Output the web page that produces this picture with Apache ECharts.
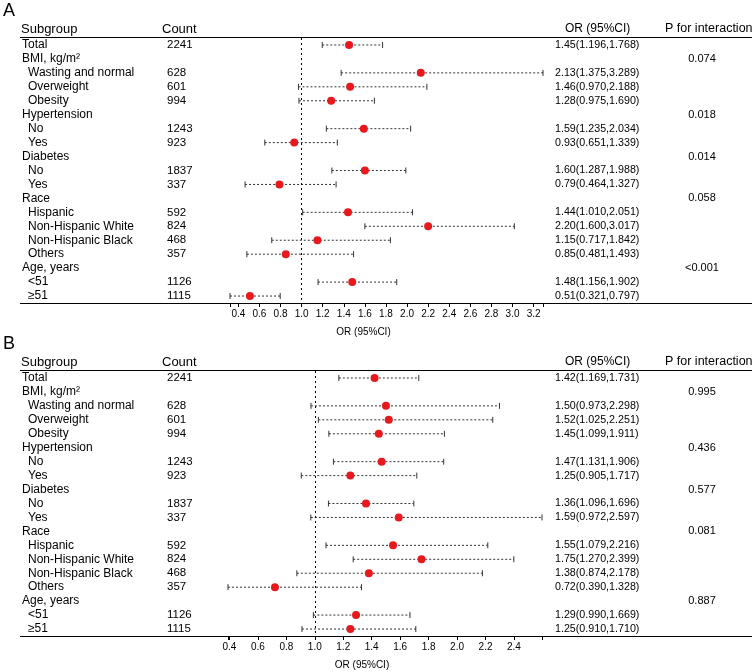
<!DOCTYPE html>
<html>
<head>
<meta charset="utf-8">
<script src="https://cdn.jsdelivr.net/npm/echarts@6/dist/echarts.min.js"></script>
<style>
    html, body { margin: 0; padding: 0; background: #fff; }
    #main { width: 755px; height: 672px; }
</style>
</head>
<body>
<div id="main"></div>
<script>
// rows of the table, top to bottom (same for both panels)
const subgroups = ['Total', 'BMI, kg/m²', 'Wasting and normal', 'Overweight', 'Obesity',
    'Hypertension', 'No', 'Yes', 'Diabetes', 'No', 'Yes',
    'Race', 'Hispanic', 'Non-Hispanic White', 'Non-Hispanic Black', 'Others',
    'Age, years', '<51', '≥51'];
// 0 = group row, 1 = indented sub row
const level = [0, 0, 1, 1, 1, 0, 1, 1, 0, 1, 1, 0, 1, 1, 1, 1, 0, 1, 1];
const counts = [2241, null, 628, 601, 994, null, 1243, 923, null, 1837, 337, null, 592, 824, 468, 357, null, 1126, 1115];

// panel A
const orA = [1.45, null, 2.13, 1.46, 1.28, null, 1.59, 0.93, null, 1.60, 0.79, null, 1.44, 2.20, 1.15, 0.85, null, 1.48, 0.51];
const loA = [1.196, null, 1.375, 0.970, 0.975, null, 1.235, 0.651, null, 1.287, 0.464, null, 1.010, 1.600, 0.717, 0.481, null, 1.156, 0.321];
const hiA = [1.768, null, 3.289, 2.188, 1.690, null, 2.034, 1.339, null, 1.988, 1.327, null, 2.051, 3.017, 1.842, 1.493, null, 1.902, 0.797];
const pA = ['', '0.074', '', '', '', '0.018', '', '', '0.014', '', '', '0.058', '', '', '', '', '<0.001', '', ''];
const ticksA = [0.4, 0.6, 0.8, 1.0, 1.2, 1.4, 1.6, 1.8, 2.0, 2.2, 2.4, 2.6, 2.8, 3.0, 3.2];

// panel B
const orB = [1.42, null, 1.50, 1.52, 1.45, null, 1.47, 1.25, null, 1.36, 1.59, null, 1.55, 1.75, 1.38, 0.72, null, 1.29, 1.25];
const loB = [1.169, null, 0.973, 1.025, 1.099, null, 1.131, 0.905, null, 1.096, 0.972, null, 1.079, 1.270, 0.874, 0.390, null, 0.990, 0.910];
const hiB = [1.731, null, 2.298, 2.251, 1.911, null, 1.906, 1.717, null, 1.696, 2.597, null, 2.216, 2.399, 2.178, 1.328, null, 1.669, 1.710];
const pB = ['', '0.995', '', '', '', '0.436', '', '', '0.577', '', '', '0.081', '', '', '', '', '0.887', '', ''];
const ticksB = [0.4, 0.6, 0.8, 1.0, 1.2, 1.4, 1.6, 1.8, 2.0, 2.2, 2.4];

const FONT = '"Liberation Sans", Arial, sans-serif';

const panels = [
    { tag: 'A', top: 38, left: 230, right: 543, or: orA, lo: loA, hi: hiA, p: pA, ticks: ticksA },
    { tag: 'B', top: 371, left: 228, right: 542, or: orB, lo: loB, hi: hiB, p: pB, ticks: ticksB }
];
const tableH = 265;

let grid = [], xAxis = [], yAxis = [], series = [], graphic = [];

panels.forEach((pn, i) => {
    let lows = pn.lo.filter(v => v != null);
    let highs = pn.hi.filter(v => v != null);
    let xmin = Math.min(...lows);
    let xmax = Math.max(...highs);
    let orText = pn.or.map((v, k) => v == null ? '' : v.toFixed(2) + '(' + pn.lo[k].toFixed(3) + ',' + pn.hi[k].toFixed(3) + ')');

    grid.push({ left: pn.left, width: pn.right - pn.left, top: pn.top, height: tableH });

    xAxis.push({
        gridIndex: i,
        type: 'value',
        min: xmin,
        max: xmax,
        axisLine: { show: false },
        splitLine: { show: false },
        axisTick: { show: true, customValues: [xmin].concat(pn.ticks, [xmax]), length: 4, lineStyle: { color: '#000' } },
        axisLabel: { customValues: pn.ticks, formatter: v => v.toFixed(1), margin: 6, color: '#000', fontSize: 10, fontFamily: FONT },
        name: 'OR (95%CI)',
        nameLocation: 'middle',
        nameGap: 24,
        nameTextStyle: { color: '#000', fontSize: 10, fontFamily: FONT, padding: [0, 46, 0, 0] }
    });

    let catBase = {
        gridIndex: i,
        type: 'category',
        inverse: true,
        axisLine: { show: false, onZero: false },
        axisTick: { show: false },
        splitLine: { show: false }
    };
    // subgroup names
    yAxis.push(Object.assign({}, catBase, {
        position: 'left',
        data: subgroups,
        axisLabel: {
            interval: 0, align: 'left', margin: pn.left - 22, color: '#000', fontSize: 12, fontFamily: FONT,
            formatter: (v, idx) => level[idx] ? '{sub|' + v + '}' : v,
            rich: { sub: { padding: [0, 0, 0, 6], color: '#000', fontSize: 12, fontFamily: FONT } }
        }
    }));
    // counts
    yAxis.push(Object.assign({}, catBase, {
        position: 'left',
        data: counts.map(c => c == null ? '' : String(c)),
        axisLabel: { interval: 0, align: 'left', margin: pn.left - 167, color: '#000', fontSize: 11.5, fontFamily: FONT }
    }));
    // OR (95%CI) text
    yAxis.push(Object.assign({}, catBase, {
        position: 'right',
        data: orText,
        axisLabel: { interval: 0, align: 'left', margin: 555 - pn.right, color: '#000', fontSize: 10.7, fontFamily: FONT }
    }));
    // P for interaction
    yAxis.push(Object.assign({}, catBase, {
        position: 'right',
        data: pn.p,
        axisLabel: { interval: 0, align: 'center', margin: 702 - pn.right, color: '#000', fontSize: 11, fontFamily: FONT }
    }));

    let ciData = pn.lo.map((v, k) => [v, pn.hi[k], k]).filter(d => d[0] != null);
    let ptData = pn.or.map((v, k) => [v, k]).filter(d => d[0] != null);

    series.push({
        type: 'custom',
        xAxisIndex: i,
        yAxisIndex: i * 4,
        clip: false,
        encode: { x: [0, 1], y: 2 },
        data: ciData,
        renderItem: (params, api) => {
            let a = api.coord([api.value(0), api.value(2)]);
            let b = api.coord([api.value(1), api.value(2)]);
            let stroke = { stroke: '#333', lineWidth: 1 };
            return {
                type: 'group',
                children: [
                    { type: 'line', shape: { x1: a[0], y1: a[1], x2: b[0], y2: b[1] }, style: Object.assign({ lineDash: [2, 2] }, stroke) },
                    { type: 'line', shape: { x1: a[0], y1: a[1] - 3, x2: a[0], y2: a[1] + 3 }, style: stroke },
                    { type: 'line', shape: { x1: b[0], y1: b[1] - 3, x2: b[0], y2: b[1] + 3 }, style: stroke }
                ]
            };
        }
    });
    series.push({
        type: 'scatter',
        xAxisIndex: i,
        yAxisIndex: i * 4,
        symbolSize: 8,
        itemStyle: { color: '#e8191c', opacity: 1 },
        z: 5,
        data: ptData,
        markLine: {
            silent: true,
            symbol: 'none',
            label: { show: false },
            lineStyle: { color: '#000', type: [2, 3], width: 1 },
            data: [{ xAxis: 1 }]
        }
    });

    // panel letter, header row and the two rules
    let headY = pn.top - 9;
    let ruleTop = pn.top - 0.5;
    let ruleBottom = pn.top + tableH + 0.5;
    let headFont = '13px ' + FONT;
    let headFontR = '12.5px ' + FONT;
    graphic.push(
        { type: 'text', x: 3, y: pn.top - 36, style: { text: pn.tag, font: '18px ' + FONT, fill: '#000' } },
        { type: 'text', x: 21, y: headY, style: { text: 'Subgroup', font: headFont, fill: '#000', verticalAlign: 'middle' } },
        { type: 'text', x: 162, y: headY, style: { text: 'Count', font: headFont, fill: '#000', verticalAlign: 'middle' } },
        { type: 'text', x: 565, y: headY, style: { text: 'OR (95%CI)', font: '12px ' + FONT, fill: '#000', verticalAlign: 'middle' } },
        { type: 'text', x: 665, y: headY, style: { text: 'P for interaction', font: headFontR, fill: '#000', verticalAlign: 'middle' } },
        { type: 'line', shape: { x1: 20, y1: ruleTop, x2: 752, y2: ruleTop }, style: { stroke: '#000', lineWidth: 1 } },
        { type: 'line', shape: { x1: 20, y1: ruleBottom, x2: 752, y2: ruleBottom }, style: { stroke: '#000', lineWidth: 1 } }
    );
});

let chart = echarts.init(document.getElementById('main'));
chart.setOption({
    animation: false,
    backgroundColor: '#fff',
    grid: grid,
    xAxis: xAxis,
    yAxis: yAxis,
    series: series,
    graphic: graphic
});
</script>
</body>
</html>
